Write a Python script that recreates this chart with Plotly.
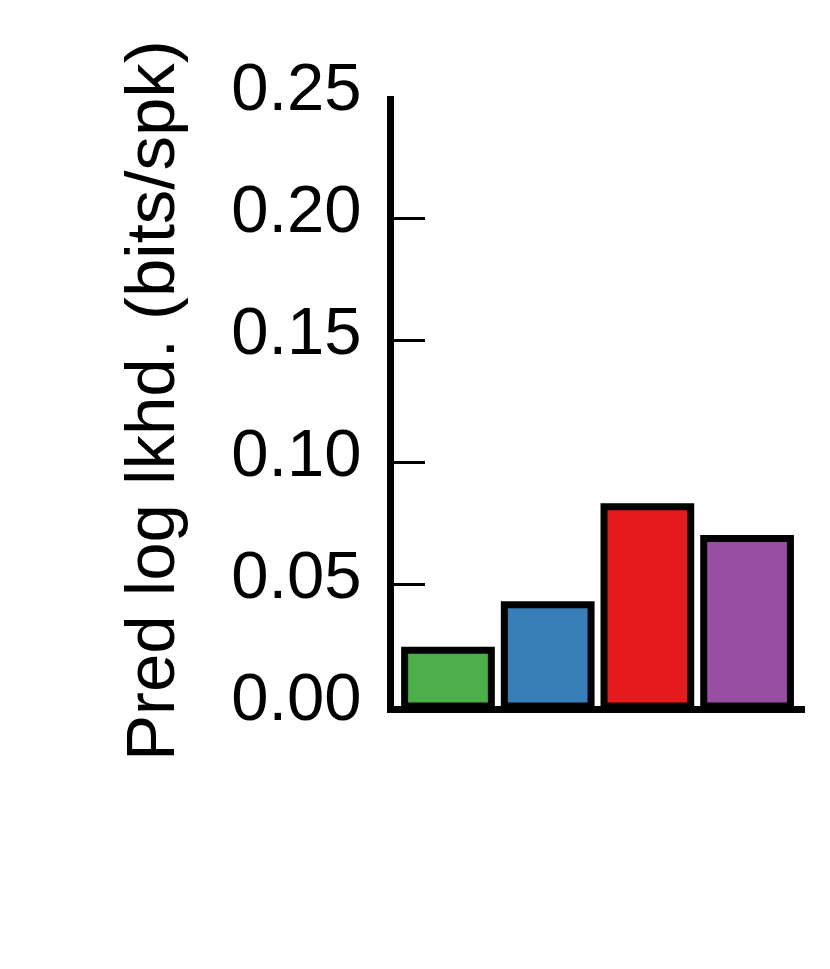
import plotly.graph_objects as go

# model comparison, predictive log likelihood
models = ["A", "B", "C", "D"]
pred_ll = [0.0228, 0.0415, 0.0817, 0.0686]
bar_colors = ["#4daf4a", "#377eb8", "#e41a1c", "#984ea3"]
y_ticks = [0.00, 0.05, 0.10, 0.15, 0.20, 0.25]

FONT = "Liberation Sans, Arial, Helvetica, sans-serif"

fig = go.Figure()
fig.add_trace(go.Bar(
    x=list(range(len(models))),
    y=pred_ll,
    width=0.87,
    marker=dict(color=bar_colors, line=dict(color="black", width=7)),
    showlegend=False,
))

# page body has an 8px margin, so the figure is a bit smaller than the window
fig.update_layout(
    width=822, height=961,
    margin=dict(l=386, r=25, t=88, b=263),
    plot_bgcolor="white", paper_bgcolor="white",
    font=dict(family=FONT, color="black"),
)
fig.update_xaxes(
    range=[-0.5416, 3.581],
    showline=True, linecolor="black", linewidth=7,
    showticklabels=False, ticks="", showgrid=False, zeroline=False,
)
fig.update_yaxes(
    range=[0, 0.25001],
    tickvals=y_ticks, tickformat=".2f",
    tickfont=dict(size=67),
    ticks="inside", ticklen=31, tickwidth=3, tickcolor="black",
    ticklabelstandoff=12, ticklabelshift=-9,
    showline=True, linecolor="black", linewidth=7,
    showgrid=False, zeroline=False,
)
fig.add_annotation(
    text="Pred log lkhd. (bits/spk)",
    xref="paper", yref="paper", x=-0.5934, y=0.5,
    xanchor="center", yanchor="middle",
    textangle=-90, showarrow=False,
    font=dict(size=69, family=FONT),
)

fig.write_html("out.html")
